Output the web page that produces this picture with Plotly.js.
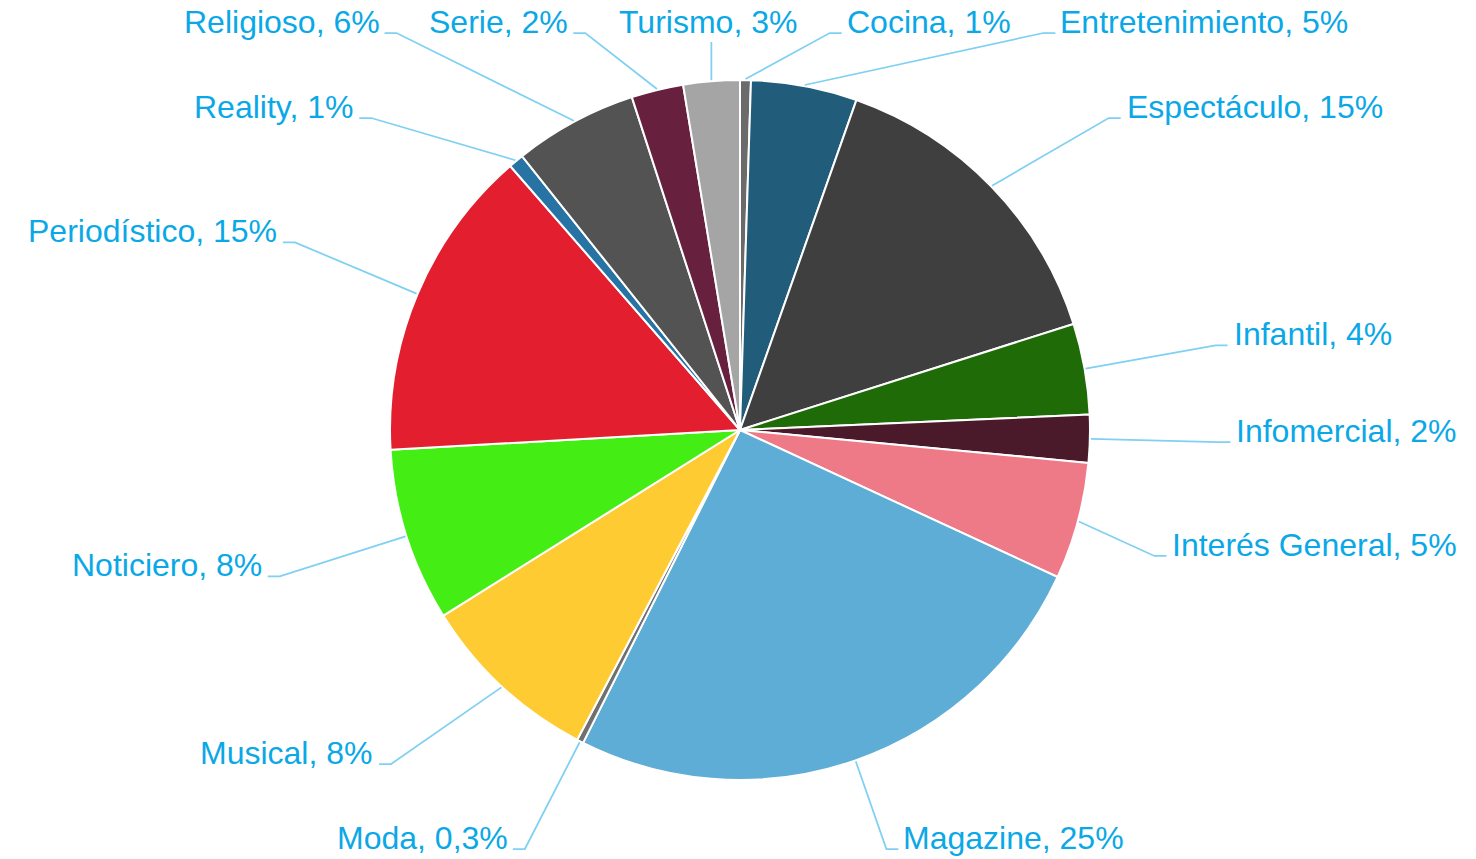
<!DOCTYPE html>
<html><head><meta charset="utf-8">
<script src="https://cdn.plot.ly/plotly-3.0.1.min.js"></script>
<style>html,body{margin:0;padding:0;background:#fff;overflow:hidden}#chart{width:1476px;height:859px}</style>
</head><body><div id="chart"></div>
<script>
// ---- data ----
const categories = ['Cocina','Entretenimiento','Espectáculo','Infantil','Infomercial','Interés General','Magazine','Moda','Musical','Noticiero','Periodístico','Reality','Religioso','Serie','Turismo'];
const shares = [0.5, 4.9, 14.7, 4.2, 2.2, 5.4, 25.5, 0.3, 8.4, 8.0, 14.5, 0.7, 5.7, 2.4, 2.6];
const percentLabels = ['1%','5%','15%','4%','2%','5%','25%','0,3%','8%','8%','15%','1%','6%','2%','3%'];
const sliceColors = ['#6B6B6B','#215C7A','#3F3F3F','#1F6B07','#4A1A2B','#EF7A87','#5DADD6','#707070','#FFCB33','#44EE14','#E31E2F','#2773A3','#535353','#67203D','#A5A5A5'];

// ---- geometry ----
const W = 1476, H = 859, CX = 740, CY = 430, R = 350;
const FONT_SIZE = 32, FONT_FAMILY = '"Liberation Sans", Arial, sans-serif';
const TEXT_COLOR = '#0AA8E6', LINE_COLOR = '#7FD0F3';
const K = 1.38, LR = K * R, TOP = 33, BOT = 849, SIDE_MARGIN = 85, GAP = 50, SEG = 12, TXT_PAD = 5, ELB = 17, VSPACE = 45, EDGE = 20;

const px = x => x / W, py = y => 1 - y / H;
const ctx = document.createElement('canvas').getContext('2d');
ctx.font = FONT_SIZE + 'px "Liberation Sans"';
const textW = s => ctx.measureText(s).width;

const total = shares.reduce((a, b) => a + b, 0);
let acc = 0;
const items = categories.map((c, i) => {
  const th = 2 * Math.PI * (acc + shares[i] / 2) / total;
  acc += shares[i];
  const text = c + ', ' + percentLabels[i];
  const it = {i, th, text, w: textW(text), sx: CX + (R + 1) * Math.sin(th), sy: CY - (R + 1) * Math.cos(th)};
  const ny = CY - LR * Math.cos(th);
  it.row = ny < TOP ? 'top' : (ny > BOT ? 'bot' : 'side');
  it.ny = ny;
  return it;
});

const shapes = [], annotations = [];
function addLine(pts) {
  const path = pts.map((p, k) => (k ? 'L' : 'M') + px(p[0]).toFixed(5) + ',' + py(p[1]).toFixed(5)).join(' ');
  shapes.push({type: 'path', path, xref: 'paper', yref: 'paper', line: {color: LINE_COLOR, width: 1.75}, layer: 'above'});
}
function addText(it, x, baseline, anchor) {
  annotations.push({xref: 'paper', yref: 'paper', x: px(x), y: py(baseline - 11), xanchor: anchor, yanchor: 'middle',
    showarrow: false, text: it.text, font: {size: FONT_SIZE, family: FONT_FAMILY, color: TEXT_COLOR}, borderpad: 0});
}

function median(a) { const s = a.slice().sort((x, y) => x - y); const n = s.length; return n % 2 ? s[(n - 1) / 2] : (s[n / 2 - 1] + s[n / 2]) / 2; }

function packRow(list, rowY, isTop) {
  if (!list.length) return;
  list.forEach(it => {
    const t = (CY - rowY) / Math.cos(it.th);
    it.ray = CX + t * Math.sin(it.th);
    const s = Math.sin(it.th);
    it.slot = it.w + GAP;
    it.desired = Math.abs(s) > 0.3 ? it.ray + Math.sign(s) * (ELB + it.w / 2) : it.ray;
  });
  list.sort((a, b) => a.desired - b.desired);
  const clusters = [];
  function place(cl) {
    let o = 0; const offs = [];
    cl.items.forEach(it => { offs.push(o + it.slot / 2); o += it.slot; });
    cl.width = o; cl.offs = offs;
    let L = median(cl.items.map((it, k) => it.desired - offs[k]));
    L = Math.max(-GAP / 2, Math.min(W + GAP / 2 - o, L));
    cl.L = L;
  }
  list.forEach(it => {
    const cl = {items: [it]}; place(cl); clusters.push(cl);
    while (clusters.length > 1) {
      const b = clusters[clusters.length - 1], a = clusters[clusters.length - 2];
      if (a.L + a.width > b.L) { clusters.pop(); a.items = a.items.concat(b.items); place(a); } else break;
    }
  });
  clusters.forEach(cl => cl.items.forEach((it, k) => {
    const c = cl.L + cl.offs[k];
    const left = c - it.w / 2, right = c + it.w / 2;
    addText(it, c, rowY, 'center');
    if (it.sx >= left && it.sx <= right) {
      addLine([[it.sx, it.sy], [it.sx, isTop ? rowY + 9 : rowY - 31]]);
    } else if (it.sx < left) {
      addLine([[it.sx, it.sy], [left - ELB, rowY], [left - TXT_PAD, rowY]]);
    } else {
      addLine([[it.sx, it.sy], [right + ELB, rowY], [right + TXT_PAD, rowY]]);
    }
  }));
}
packRow(items.filter(it => it.row === 'top'), TOP, true);
packRow(items.filter(it => it.row === 'bot'), BOT, false);

function placeSide(list, dir) {
  const lo = TOP + SIDE_MARGIN, hi = BOT - SIDE_MARGIN;
  list.forEach(it => it.y = Math.max(lo, Math.min(hi, it.ny)));
  list.sort((a, b) => a.y - b.y);
  for (let k = 1; k < list.length; k++) list[k].y = Math.max(list[k].y, list[k - 1].y + VSPACE);
  for (let k = list.length - 1; k >= 0; k--) {
    if (list[k].y > hi) list[k].y = hi;
    if (k < list.length - 1) list[k].y = Math.min(list[k].y, list[k + 1].y - VSPACE);
  }
  list.forEach(it => {
    const dy = it.y - CY;
    const dx = Math.sqrt(Math.max(LR * LR - dy * dy, 0));
    let ex = CX + dir * dx;
    const need = it.w + SEG + TXT_PAD;
    if (dir > 0) ex = Math.min(ex, W - EDGE - need);
    else ex = Math.max(ex, EDGE + need);
    addLine([[it.sx, it.sy], [ex, it.y], [ex + dir * SEG, it.y]]);
    addText(it, ex + dir * (SEG + TXT_PAD), it.y, dir > 0 ? 'left' : 'right');
  });
}
placeSide(items.filter(it => it.row === 'side' && Math.sin(it.th) > 0), 1);
placeSide(items.filter(it => it.row === 'side' && Math.sin(it.th) <= 0), -1);

const trace = {
  type: 'pie', labels: categories, values: shares, sort: false, direction: 'clockwise', rotation: 0,
  marker: {colors: sliceColors, line: {color: '#FFFFFF', width: 2}},
  textinfo: 'none', hoverinfo: 'label+percent', showlegend: false,
  domain: {x: [px(CX - R), px(CX + R)], y: [py(CY + R), py(CY - R)]}
};
const layout = {
  width: W, height: H, margin: {l: 0, r: 0, t: 0, b: 0}, paper_bgcolor: '#FFFFFF',
  showlegend: false, shapes, annotations, font: {family: FONT_FAMILY}
};
Plotly.newPlot('chart', [trace], layout, {displayModeBar: false, staticPlot: true});
</script></body></html>
